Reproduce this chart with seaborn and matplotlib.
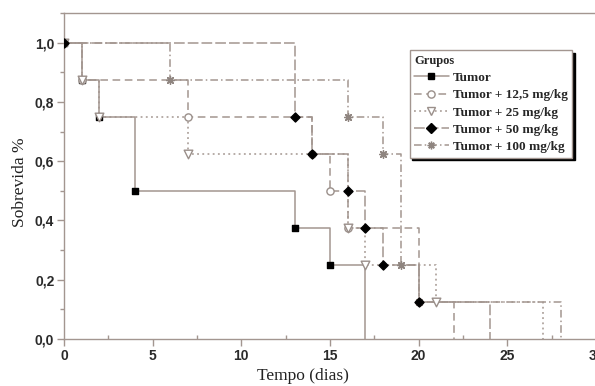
import matplotlib
matplotlib.use("Agg")
import matplotlib.pyplot as plt
import seaborn as sns
import pandas as pd
from matplotlib.ticker import MultipleLocator, FuncFormatter

# ---- data (Kaplan-Meier step points) ----
groups = ["Tumor", "Tumor + 12,5 mg/kg", "Tumor + 25 mg/kg",
          "Tumor + 50 mg/kg", "Tumor + 100 mg/kg"]
t_tumor = [0, 1, 2, 4, 13, 15, 17]
s_tumor = [1.0, 0.875, 0.75, 0.5, 0.375, 0.25, 0.0]
t_125 = [0, 1, 7, 14, 15, 16, 20, 22]
s_125 = [1.0, 0.875, 0.75, 0.625, 0.5, 0.375, 0.125, 0.0]
t_25 = [0, 1, 2, 7, 16, 17, 21, 27]
s_25 = [1.0, 0.875, 0.75, 0.625, 0.375, 0.25, 0.125, 0.0]
t_50 = [0, 13, 14, 16, 17, 18, 20, 24]
s_50 = [1.0, 0.75, 0.625, 0.5, 0.375, 0.25, 0.125, 0.0]
t_100 = [0, 6, 16, 18, 19, 20, 28]
s_100 = [1.0, 0.875, 0.75, 0.625, 0.25, 0.125, 0.0]
x_ticks = [0, 5, 10, 15, 20, 25, 30]
y_ticks = [0.0, 0.2, 0.4, 0.6, 0.8, 1.0]

times = [t_tumor, t_125, t_25, t_50, t_100]
survs = [s_tumor, s_125, s_25, s_50, s_100]

rows = []
for g, ts, ss in zip(groups, times, survs):
    for t, s in zip(ts, ss):
        rows.append({"grupo": g, "tempo": t, "sobrevida": s})
df = pd.DataFrame(rows)

# ---- styles ----
line_col = "#a39690"
styles = {
    "Tumor": dict(dashes=None, marker="s", mfc="black", mec="black", ms=4.2, z=3),
    "Tumor + 12,5 mg/kg": dict(dashes=(5, 3), marker="o", mfc="white", mec="#9a8f8a", ms=5.2, z=5),
    "Tumor + 25 mg/kg": dict(dashes=(1.2, 2.2), marker="v", mfc="white", mec="#9a8f8a", ms=6.2, z=6),
    "Tumor + 50 mg/kg": dict(dashes=(7, 2), marker="D", mfc="black", mec="black", ms=4.6, z=8),
    "Tumor + 100 mg/kg": dict(dashes=(5, 2, 1, 2), marker=(8, 2, 0), mfc="#8f8580", mec="#8f8580", ms=5.5, z=4),
}

sns.set_style("white")
plt.rcParams["font.family"] = ["Liberation Sans", "DejaVu Sans"]

fig = plt.figure(figsize=(5.95, 3.86), dpi=100)
ax = fig.add_axes([64 / 595, 1 - 339 / 386, 532 / 595, 326 / 386])

handles = []
for g in groups:
    st = styles[g]
    sub = df[df["grupo"] == g]
    sns.lineplot(data=sub, x="tempo", y="sobrevida", ax=ax, estimator=None,
                 sort=False, drawstyle="steps-post", color=line_col, lw=1.1,
                 legend=False, zorder=2)
    ln = ax.lines[-1]
    if st["dashes"] is not None:
        ln.set_dashes(st["dashes"])
    mk = sub[sub["sobrevida"] > 0]
    sns.scatterplot(data=mk, x="tempo", y="sobrevida", ax=ax, marker=st["marker"],
                    color=st["mfc"], edgecolor=st["mec"], s=st["ms"] ** 2,
                    linewidth=1.0, zorder=st["z"], legend=False)
    h, = ax.plot([], [], color=line_col, lw=1.1, marker=st["marker"],
                 markerfacecolor=st["mfc"], markeredgecolor=st["mec"],
                 markersize=st["ms"], label=g)
    if st["dashes"] is not None:
        h.set_dashes(st["dashes"])
    handles.append(h)

ax.set_xlim(0, 30)
ax.set_ylim(0, 1.1)
ax.set_xticks(x_ticks)
ax.set_yticks(y_ticks)
ax.xaxis.set_minor_locator(MultipleLocator(2.5))
ax.yaxis.set_minor_locator(MultipleLocator(0.1))
ax.yaxis.set_major_formatter(FuncFormatter(lambda v, p: f"{v:.1f}".replace(".", ",")))
ax.xaxis.set_major_formatter(FuncFormatter(lambda v, p: f"{int(v)}"))

spine_col = "#a39690"
for side in ["left", "bottom", "top"]:
    ax.spines[side].set_color(spine_col)
    ax.spines[side].set_linewidth(1.0)
    ax.spines[side].set_visible(True)
ax.spines["right"].set_visible(False)

ax.tick_params(axis="both", which="major", direction="out", length=5, width=1,
               color=spine_col, labelsize=10, pad=2, bottom=True, left=True)
ax.tick_params(axis="x", which="minor", direction="in", length=3, width=1,
               color=spine_col, bottom=True)
ax.tick_params(axis="y", which="minor", direction="out", length=3, width=1,
               color=spine_col, left=True)
for lab in ax.get_xticklabels() + ax.get_yticklabels():
    lab.set_fontweight("bold")
    lab.set_color("#2a2a2a")

ax.set_xlabel("Tempo (dias)", fontsize=12.5, family=["Liberation Serif"], color="#222222")
ax.set_ylabel("Sobrevida %", fontsize=12.5, family=["Liberation Serif"], color="#222222")
ax.xaxis.set_label_coords((303 - 64) / 532, -0.088)
ax.yaxis.set_label_coords(-0.068, 0.48)

leg = ax.legend(handles=handles, loc="upper right", bbox_to_anchor=(0.955, 0.886),
                title="Grupos", alignment="left", frameon=True, fancybox=False,
                shadow={"color": "black", "alpha": 1.0}, handlelength=2.6,
                handletextpad=0.3, borderpad=0.35, labelspacing=0.38,
                borderaxespad=0.0,
                prop={"family": "Liberation Serif", "weight": "bold", "size": 9.5},
                title_fontproperties={"family": "Liberation Serif", "weight": "bold", "size": 9})
leg.get_frame().set_edgecolor("#a39690")
leg.get_frame().set_linewidth(1.0)
leg.get_frame().set_alpha(1)
leg.set_zorder(20)

fig.savefig("out.png", dpi=100)
